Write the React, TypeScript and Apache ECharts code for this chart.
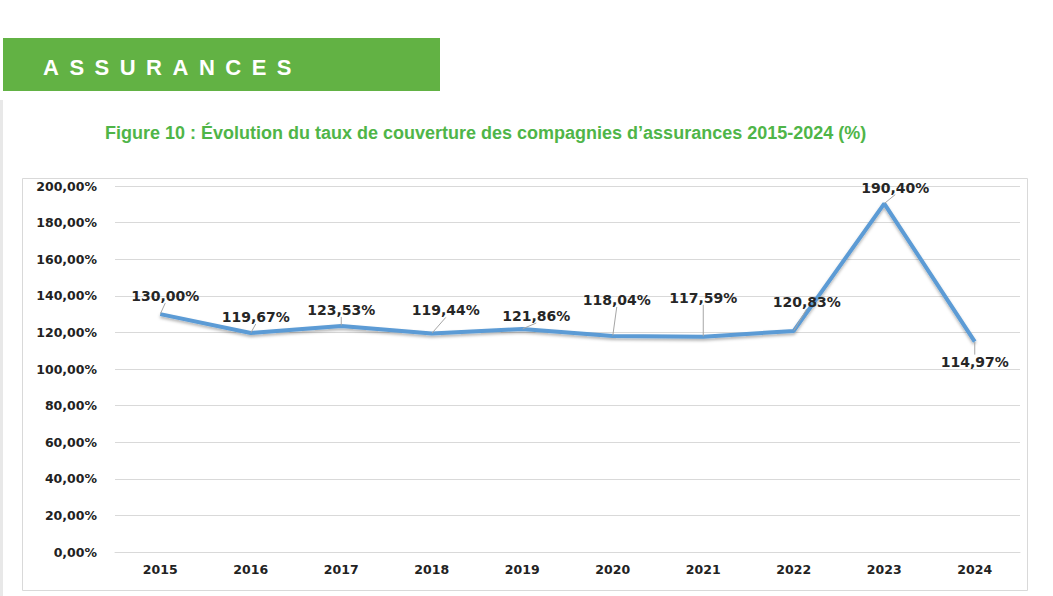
import React, { useEffect, useRef } from "react";
import * as echarts from "echarts";

const years = ["2015", "2016", "2017", "2018", "2019", "2020", "2021", "2022", "2023", "2024"];
const coverage = [130.0, 119.67, 123.53, 119.44, 121.86, 118.04, 117.59, 120.83, 190.4, 114.97];
const yTicks = { min: 0, max: 200, interval: 20 };
const labelOffsets = [
  [5, -18], [5, -16], [0, -16], [14, -23], [14, -13],
  [4, -36], [0, -39], [13, -29], [11, -16], [0, 20],
];

const fmt = (v: number) => v.toFixed(2).replace(".", ",") + "%";

export default function App() {
  const ref = useRef<HTMLDivElement>(null);
  useEffect(() => {
    if (!ref.current) return;
    const chart = echarts.init(ref.current, null, { renderer: "svg" });
    chart.setOption({
      animation: false,
      backgroundColor: "#ffffff",
      title: {
        text: "Figure 10 : Évolution du taux de couverture des compagnies d’assurances 2015-2024 (%)",
        left: 100,
        top: 119,
        textStyle: {
          fontFamily: "'Liberation Sans', Arial, sans-serif",
          fontWeight: "bold",
          fontSize: 18,
          color: "#4fb548",
        },
      },
      graphic: [
        {
          type: "rect",
          left: 22,
          top: 178,
          shape: { width: 1005, height: 412 },
          style: { fill: "#ffffff", stroke: "#d9d9d9", lineWidth: 1 },
          z: -10,
        },
        {
          type: "rect",
          left: 0,
          top: 100,
          shape: { width: 3, height: 496 },
          style: { fill: "#e8e8e8" },
          z: -10,
        },
      ],
      grid: { left: 115, right: 33, top: 186, bottom: 44 },
      xAxis: {
        type: "category",
        data: years,
        boundaryGap: true,
        axisLine: { show: true, lineStyle: { color: "#d9d9d9" } },
        axisTick: { show: false },
        axisLabel: {
          margin: 11,
          fontFamily: "'DejaVu Sans', Verdana, sans-serif",
          fontWeight: "bold",
          fontSize: 12.5,
          color: "#222222",
        },
      },
      yAxis: {
        type: "value",
        min: yTicks.min,
        max: yTicks.max,
        interval: yTicks.interval,
        axisLine: { show: false },
        axisTick: { show: false },
        splitLine: { lineStyle: { color: "#d9d9d9", width: 1 } },
        axisLabel: {
          margin: 18,
          formatter: (v: number) => fmt(v),
          fontFamily: "'DejaVu Sans', Verdana, sans-serif",
          fontWeight: "bold",
          fontSize: 12.5,
          color: "#222222",
        },
      },
      series: [
        {
          type: "line",
          data: coverage,
          showSymbol: true,
          symbol: "circle",
          symbolSize: 1,
          lineStyle: {
            color: "#5b9bd5",
            width: 4,
            shadowColor: "rgba(0,0,0,0.3)",
            shadowBlur: 3,
            shadowOffsetY: 2,
          },
          itemStyle: { color: "rgba(91,155,213,0)" },
          label: {
            show: true,
            position: "inside",
            formatter: (p: any) => fmt(p.value),
            fontFamily: "'DejaVu Sans', Verdana, sans-serif",
            fontWeight: "bold",
            fontSize: 14,
            color: "#262626",
          },
          labelLine: { show: true, lineStyle: { color: "#a6a6a6", width: 1 } },
          labelLayout: (params: any) => {
            const o = labelOffsets[params.dataIndex] || [0, 0];
            return { dx: o[0], dy: o[1] };
          },
        },
      ],
    });
    return () => chart.dispose();
  }, []);

  return (
    <div style={{ position: "absolute", left: 0, top: 0, width: 1053, height: 596 }}>
      <div ref={ref} style={{ position: "absolute", left: 0, top: 0, width: 1053, height: 596 }} />
      <div
        style={{
          position: "absolute",
          left: 3,
          top: 38,
          width: 437,
          height: 53,
          background: "#62b244",
          color: "#ffffff",
          fontFamily: "'Liberation Sans', Arial, sans-serif",
          fontWeight: "bold",
          fontSize: 22,
          letterSpacing: "10.5px",
          lineHeight: "53px",
          paddingLeft: 40,
          paddingTop: 3,
          boxSizing: "border-box",
        }}
      >
        ASSURANCES
      </div>
    </div>
  );
}
